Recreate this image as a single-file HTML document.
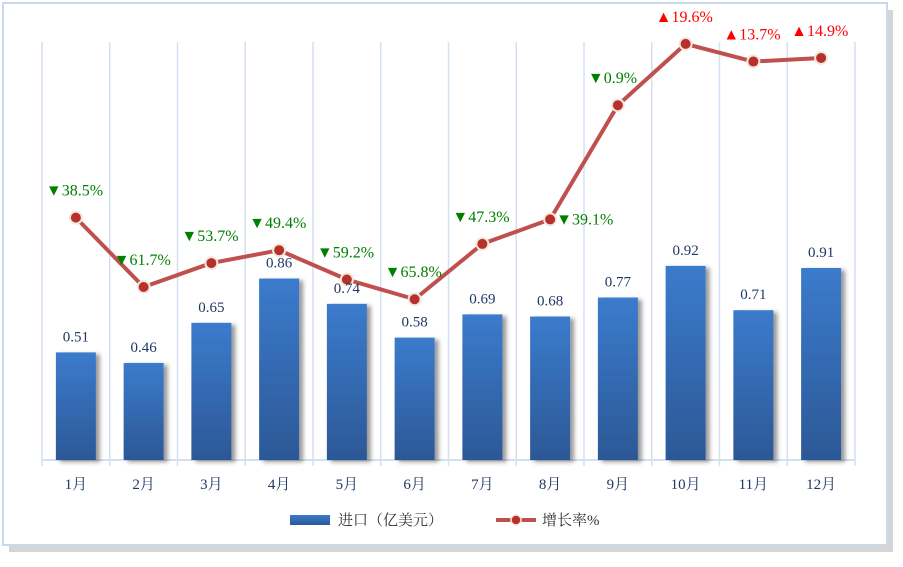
<!DOCTYPE html>
<html><head><meta charset="utf-8"><style>
body{margin:0;background:#fff;width:903px;height:562px;overflow:hidden;font-family:"Liberation Serif","Noto Serif CJK SC",serif}
</style></head><body>
<svg width="903" height="562" xmlns="http://www.w3.org/2000/svg">
<defs>
<linearGradient id="bg" x1="0" y1="0" x2="0" y2="1"><stop offset="0" stop-color="#3b7bcc"/><stop offset="1" stop-color="#2c5896"/></linearGradient>
<filter id="sh" x="-20%" y="-10%" width="160%" height="130%"><feDropShadow dx="4" dy="2" stdDeviation="2" flood-color="#000" flood-opacity="0.4"/></filter>
</defs>
<rect x="6" y="6" width="884" height="542" fill="#888" opacity="0.35" transform="translate(3,4)"/>
<rect x="3" y="3" width="884" height="542" fill="#fff" stroke="#c9d8ea" stroke-width="2"/>
<g id="grid"></g><g id="bars"></g><g id="line"></g><g id="labels"></g><g id="xaxis"></g>
<g>
<rect x="290" y="515" width="40" height="10" fill="url(#bg)"/>
<text x="338" y="525" font-size="15" fill="#333">进口（亿美元）</text>
<line x1="496" y1="520" x2="536" y2="520" stroke="#c0504d" stroke-width="4"/>
<circle cx="516" cy="520" r="5" fill="#b8302c" stroke="#f2e9dc" stroke-width="1.5"/>
<text x="542" y="525" font-size="15" fill="#333">增长率%</text>
</g>
</svg>
<script>
const categories=["1月","2月","3月","4月","5月","6月","7月","8月","9月","10月","11月","12月"];
const importValues=[0.51,0.46,0.65,0.86,0.74,0.58,0.69,0.68,0.77,0.92,0.71,0.91];
const growthValues=[-38.5,-61.7,-53.7,-49.4,-59.2,-65.8,-47.3,-39.1,-0.9,19.6,13.7,14.9];
const NS="http://www.w3.org/2000/svg";
const plotLeft=42,plotRight=855,plotBase=460,plotTop=42,nCat=categories.length,step=(plotRight-plotLeft)/nCat;
const xC=i=>plotLeft+step*(i+0.5);
const yBar=v=>plotBase-v*211;
const yLine=v=>102.5-v*2.99;
function mk(tag,attrs,parent){const e=document.createElementNS(NS,tag);for(const k in attrs)e.setAttribute(k,attrs[k]);document.getElementById(parent).appendChild(e);return e;}
for(let i=0;i<=nCat;i++){const g=mk('line',{x1:plotLeft+step*i,x2:plotLeft+step*i,y1:plotTop,y2:plotBase+6,stroke:'#d3e0f0','stroke-width':1.5},'grid');

}
const ax=mk('line',{x1:plotLeft,x2:plotRight,y1:plotBase,y2:plotBase,stroke:'#d3e0f0','stroke-width':2},'grid');


importValues.forEach((v,i)=>{
const b=mk('rect',{x:xC(i)-20,y:yBar(v),width:40,height:plotBase-yBar(v),fill:'url(#bg)',filter:'url(#sh)'},'bars');


const t=mk('text',{x:xC(i),y:yBar(v)-11,'text-anchor':'middle','font-size':15,fill:'#1f3864'},'labels');
t.textContent=v.toFixed(2);


const c=mk('text',{x:xC(i),y:plotBase+29,'text-anchor':'middle','font-size':15,fill:'#1f3864'},'xaxis');
c.textContent=categories[i];


});
const pts=growthValues.map((v,i)=>xC(i)+','+yLine(v)).join(' ');
const pl=mk('polyline',{points:pts,fill:'none',stroke:'#c0504d','stroke-width':4,'stroke-linejoin':'round'},'line');


growthValues.forEach((v,i)=>{
const c=mk('circle',{cx:xC(i),cy:yLine(v),r:6,fill:'#b8302c',stroke:'#f2e9dc','stroke-width':2},'line');


const up=v>=0,col=up?'#ff0000':'#008000';
let lx=xC(i)-30,ly=yLine(v)-22;
if(i===7){lx=xC(i)+6;ly=yLine(v)+5;}
const t=mk('text',{x:lx,y:ly,'font-size':16,fill:col},'labels');
t.textContent=(up?'▲':'▼')+Math.abs(v).toFixed(1)+'%';


});
</script>
</body></html>
